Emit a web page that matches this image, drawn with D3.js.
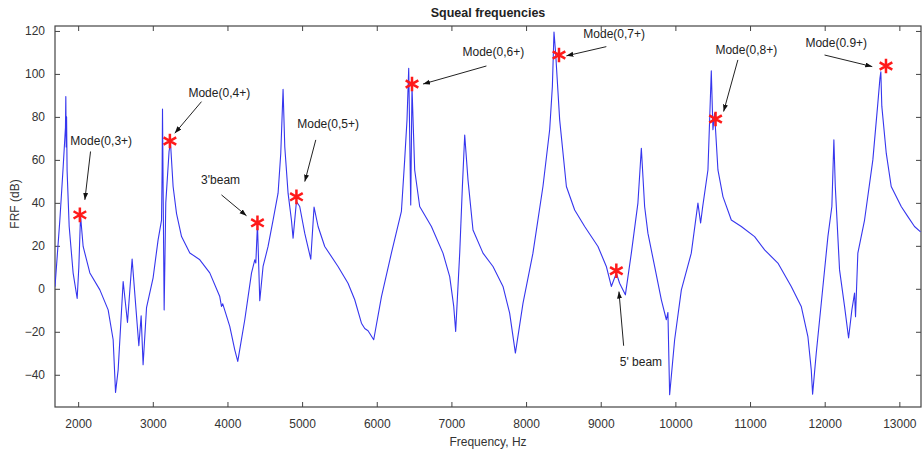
<!DOCTYPE html>
<html>
<head>
<meta charset="utf-8">
<script src="https://cdn.jsdelivr.net/npm/d3@7"></script>
<style>
  body { margin: 0; background: #fff; }
  #wrapper text { font-family: "Liberation Sans", Arial, sans-serif; }
  .tick text { font-size: 12px; fill: #333; }
  .tick line { stroke: #444; }
  .frame { fill: none; stroke: #444; stroke-width: 1.2; }
  .line { fill: none; stroke: #3636ee; stroke-width: 1.1; stroke-linejoin: round; }
  .star { fill: none; stroke: #ff1a1a; stroke-width: 2.5; }
  .note { font-size: 12px; fill: #222; }
  .arrow { stroke: #222; stroke-width: 1; }
</style>
</head>
<body>
<div id="wrapper"></div>
<script>
// FRF trace (Hz, dB)
const freqHz = [
  1690, 1755, 1800, 1830, 1835, 1840, 1845, 1852, 1880, 1933, 1987, 2009, 2032, 2067, 2157,
  2291, 2402, 2469, 2501, 2536, 2603, 2661, 2723, 2813, 2844, 2870, 2916, 3004, 3071, 3117,
  3125, 3130, 3140, 3152, 3174, 3218, 3237, 3272, 3318, 3385, 3496, 3630, 3763, 3897, 3920,
  3937, 4031, 4098, 4138, 4232, 4322, 4366, 4380, 4402, 4433, 4477, 4544, 4611, 4678, 4714,
  4745, 4768, 4812, 4857, 4879, 4924, 4968, 5035, 5116, 5160, 5214, 5303, 5481, 5615, 5705,
  5795, 5839, 5883, 5959, 6063, 6196, 6330, 6374, 6405, 6428, 6455, 6472, 6485, 6508, 6575,
  6732, 6887, 6977, 7031, 7057, 7111, 7147, 7178, 7222, 7289, 7423, 7557, 7691, 7780, 7857,
  7959, 8092, 8226, 8316, 8352, 8374, 8396, 8450, 8540, 8651, 8785, 8963, 9075, 9142, 9209,
  9253, 9330, 9410, 9498, 9544, 9588, 9632, 9722, 9812, 9879, 9900, 9923, 9990, 10080, 10213,
  10302, 10338, 10365, 10436, 10481, 10503, 10525, 10570, 10637, 10749, 10883, 11061, 11195, 11373, 11552,
  11686, 11775, 11820, 11838, 11887, 11954, 12043, 12096, 12123, 12142, 12199, 12266, 12320, 12364, 12400,
  12413, 12444, 12534, 12645, 12712, 12740, 12752, 12765, 12825, 12891, 13025, 13114, 13203, 13284
];
const frfDb = [
  1, 32, 57, 75, 89.5, 66, 80, 55, 29, 7.3, -4.5, 10, 34, 19.7, 7.4,
  -0.5, -9.8, -23.7, -48.2, -37.7, 3.4, -15.7, 13.8, -26.5, -12.6, -35.3, -8.8, 5.1, 22.8, 32,
  55, 83.6, 40, -9.8, 40, 64, 68, 47.6, 35, 24.3, 16.7, 13.5, 7.4, -3.6, -8.2,
  -7, -17.5, -28.4, -33.8, -14.4, 7.3, 13.5, 12, 30, -5.5, 10.4, 19.7, 32, 44.5, 63,
  92.8, 66, 44.5, 32, 23.6, 40.6, 38.3, 25.9, 13.8, 38, 29, 19.7, 10.4, 2.6, -5.1,
  -16, -18.5, -19.5, -23.7, -3.6, 16.6, 36, 60, 78.6, 102.6, 39, 94, 80, 55.3, 38.3,
  29, 16.6, 5.7, -8.2, -19.8, 16.6, 47.6, 71.6, 50.7, 27.4, 16.6, 10.4, 1.1, -11.3, -29.9,
  -6.7, 16.6, 47.6, 74, 94, 119.5, 109.6, 78.6, 47.6, 36.7, 29, 19.7, 10.4, 1.1, 7.3,
  2.6, -2.8, 16.6, 39.9, 65.4, 38.3, 25.9, 10.4, -5.1, -14.4, -11, -49.3, -23.7, -0.5, 16.6,
  39.9, 30.6, 38, 55.3, 101.4, 74, 81.7, 55.3, 42.9, 32, 29, 24.3, 18.1, 12, 1.1,
  -8.2, -22.2, -37.7, -49, -29.9, -6.7, 24.3, 38.3, 69.3, 47.6, 8.8, -8.2, -22.9, -9.8, -2,
  -13, 16.6, 32, 60, 86.4, 98, 101, 85, 63, 47.6, 38.3, 33.6, 29, 26.5
];

const xTicks = [2000, 3000, 4000, 5000, 6000, 7000, 8000, 9000, 10000, 11000, 12000, 13000];
const yTicks = [-40, -20, 0, 20, 40, 60, 80, 100, 120];

// squeal modes marked with a red star
const markerFreq = [2023, 3229, 4402, 4924, 6472, 8441, 9209, 10538, 12821];
const markerDb = [34.4, 68.8, 30.7, 42.8, 95.3, 108.8, 8.4, 79, 103.7];

// text + arrow, all in data units (Hz, dB)
const annotations = [
  { label: "Mode(0,3+)", text: [2309, 69], from: [2166, 63.9], to: [2090, 41.4] },
  { label: "Mode(0,4+)", text: [3891, 91.3], from: [3652, 87.1], to: [3295, 72.4] },
  { label: "3'beam", text: [3908, 50.7], from: [3920, 43.7], to: [4255, 34] },
  { label: "Mode(0,5+)", text: [5348, 76.7], from: [5183, 69.3], to: [5036, 49.9] },
  { label: "Mode(0,6+)", text: [7562, 110.1], from: [7469, 103.7], to: [6620, 95.3] },
  { label: "Mode(0,7+)", text: [9180, 118.9], from: [9075, 112.7], to: [8540, 108.4] },
  { label: "Mode(0,8+)", text: [10950, 111.2], from: [10837, 106.5], to: [10646, 82.5] },
  { label: "Mode(0.9+)", text: [12155, 114.3], from: [11998, 108.8], to: [12637, 103.4] },
  { label: "5' beam", text: [9539, -33.8], from: [9307, -26.5], to: [9244, -1.3] },
];

async function drawChart() {
  const dataset = freqHz.map((f, i) => ({ f, db: frfDb[i] }));
  const xAccessor = d => d.f;
  const yAccessor = d => d.db;

  let dimensions = {
    width: 922,
    height: 452,
    margin: { top: 26, right: 1, bottom: 45, left: 55 },
  };
  dimensions.boundedWidth = dimensions.width - dimensions.margin.left - dimensions.margin.right;
  dimensions.boundedHeight = dimensions.height - dimensions.margin.top - dimensions.margin.bottom;

  const wrapper = d3.select("#wrapper")
    .append("svg")
      .attr("width", dimensions.width)
      .attr("height", dimensions.height);

  const bounds = wrapper.append("g")
    .attr("transform", `translate(${dimensions.margin.left},${dimensions.margin.top})`);

  const defs = bounds.append("defs");
  defs.append("clipPath")
      .attr("id", "bounds-clip-path")
    .append("rect")
      .attr("width", dimensions.boundedWidth)
      .attr("height", dimensions.boundedHeight);
  defs.append("marker")
      .attr("id", "arrow-head")
      .attr("markerUnits", "userSpaceOnUse")
      .attr("markerWidth", 8)
      .attr("markerHeight", 6)
      .attr("refX", 7)
      .attr("refY", 2.5)
      .attr("orient", "auto")
    .append("path")
      .attr("d", "M0,0 L7,2.5 L0,5 Z")
      .attr("fill", "#111");

  // scales
  const xScale = d3.scaleLinear()
    .domain([1690, 13290])
    .range([0, dimensions.boundedWidth]);

  const yScale = d3.scaleLinear()
    .domain([-55, 122.3])
    .range([dimensions.boundedHeight, 0]);

  // axes (matlab style: ticks point inward, on all four sides)
  const noDomain = g => g.select(".domain").remove();

  bounds.append("g")
    .attr("transform", `translate(0,${dimensions.boundedHeight})`)
    .call(d3.axisBottom(xScale).tickValues(xTicks).tickSize(-5).tickPadding(12).tickFormat(d3.format("d")))
    .call(noDomain);
  bounds.append("g")
    .call(d3.axisTop(xScale).tickValues(xTicks).tickSize(-5).tickFormat(""))
    .call(noDomain);
  bounds.append("g")
    .call(d3.axisLeft(yScale).tickValues(yTicks).tickSize(-5).tickPadding(10))
    .call(noDomain);
  bounds.append("g")
    .attr("transform", `translate(${dimensions.boundedWidth},0)`)
    .call(d3.axisRight(yScale).tickValues(yTicks).tickSize(-5).tickFormat(""))
    .call(noDomain);

  bounds.append("rect")
    .attr("class", "frame")
    .attr("width", dimensions.boundedWidth)
    .attr("height", dimensions.boundedHeight);

  // the FRF line
  const lineGenerator = d3.line()
    .x(d => xScale(xAccessor(d)))
    .y(d => yScale(yAccessor(d)));

  bounds.append("g")
      .attr("clip-path", "url(#bounds-clip-path)")
    .append("path")
      .attr("class", "line")
      .attr("d", lineGenerator(dataset));

  // annotations
  const notes = bounds.append("g");
  notes.selectAll(".arrow")
    .data(annotations)
    .join("line")
      .attr("class", "arrow")
      .attr("x1", d => xScale(d.from[0]))
      .attr("y1", d => yScale(d.from[1]))
      .attr("x2", d => xScale(d.to[0]))
      .attr("y2", d => yScale(d.to[1]))
      .attr("marker-end", "url(#arrow-head)");

  notes.selectAll(".note")
    .data(annotations)
    .join("text")
      .attr("class", "note")
      .attr("x", d => xScale(d.text[0]))
      .attr("y", d => yScale(d.text[1]))
      .attr("dy", "0.35em")
      .attr("text-anchor", "middle")
      .text(d => d.label);

  // red stars
  const star = d3.symbol(d3.symbolAsterisk, 150);
  bounds.append("g")
    .selectAll("path")
    .data(markerFreq)
    .join("path")
      .attr("class", "star")
      .attr("transform", (d, i) => `translate(${xScale(d)},${yScale(markerDb[i])})`)
      .attr("d", star);

  // labels
  wrapper.append("text")
    .attr("x", dimensions.margin.left + dimensions.boundedWidth / 2)
    .attr("y", 13)
    .attr("dy", "0.35em")
    .attr("text-anchor", "middle")
    .style("font-size", "12.5px")
    .style("font-weight", "bold")
    .style("fill", "#222")
    .text("Squeal frequencies");

  wrapper.append("text")
    .attr("x", dimensions.margin.left + dimensions.boundedWidth / 2)
    .attr("y", 442)
    .attr("dy", "0.35em")
    .attr("text-anchor", "middle")
    .style("font-size", "12px")
    .style("fill", "#333")
    .text("Frequency, Hz");

  wrapper.append("text")
    .attr("transform", "translate(15,204) rotate(-90)")
    .attr("dy", "0.35em")
    .attr("text-anchor", "middle")
    .style("font-size", "12px")
    .style("fill", "#333")
    .text("FRF (dB)");
}
drawChart();
</script>
</body>
</html>
